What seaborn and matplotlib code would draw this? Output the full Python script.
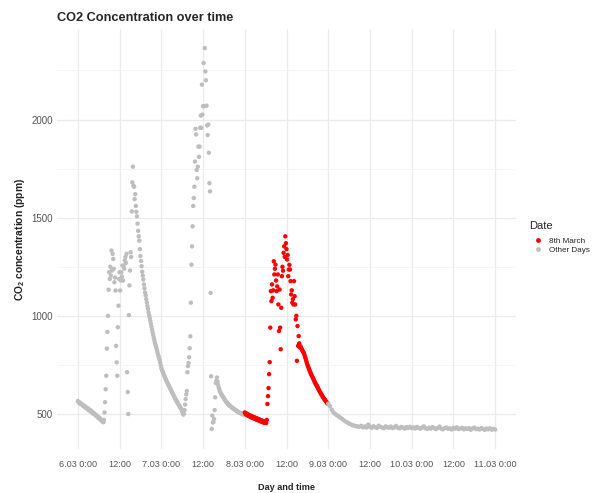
import pandas as pd
import seaborn as sns
import matplotlib.pyplot as plt
from matplotlib.ticker import MultipleLocator

# CO2 readings (ppm), 10-minute steps for 6-8 March, 30-minute steps for 9-10 March
co2_mar6 = [
    566, 561, 560, 555, 557, 551, 552, 547, 548, 541, 543, 538,
    540, 533, 535, 529, 530, 524, 527, 520, 522, 515, 518, 511,
    513, 507, 508, 501, 503, 497, 498, 492, 493, 487, 488, 481,
    483, 477, 478, 471, 472, 466, 466, 461, 458, 470, 508, 560,
    626, 695, 833, 918, 1000, 1133, 1222, 1188, 1250, 1205, 1333, 1231,
    1316, 1290, 1240, 1171, 1195, 1129, 847, 763, 695, 942, 1052, 1188,
    1222, 1129, 1180, 1222, 1200, 1256, 1180, 1256, 1240, 1282, 1300, 1270,
    1316, 713, 612, 500, 1004, 1155, 1231, 1324, 1300, 1532, 1680, 1760,
    1663, 1657, 1595, 1620, 1560, 1530, 1507, 1470, 1433, 1405, 1383, 1340,
    1305, 1280, 1253, 1225, 1205, 1185, 1160, 1140, 1119, 1104, 1085, 1068,
    1050, 1036, 1018, 1003, 990, 975, 960, 945, 930, 916, 902, 888,
    875, 862, 852, 842, 830, 818, 806, 795, 785, 775, 762, 748,
]
co2_mar7 = [
    735, 726, 718, 711, 703, 696, 689, 682, 675, 669, 662, 656,
    650, 644, 638, 632, 626, 620, 614, 608, 602, 596, 590, 584,
    578, 572, 567, 562, 557, 552, 547, 542, 537, 532, 527, 523,
    515, 505, 497, 502, 520, 548, 576, 600, 617, 713, 744, 760,
    789, 835, 896, 1067, 1261, 1354, 1456, 1560, 1600, 1658, 1786, 1953,
    1924, 1743, 1701, 1760, 1862, 1810, 1862, 1958, 2020, 1958, 2178, 2025,
    2068, 2288, 2068, 2364, 2245, 2200, 2071, 1970, 1921, 1975, 1831, 1676,
    1634, 1117, 692, 424, 492, 457, 459, 475, 520, 585, 658, 669,
    686, 665, 648, 635, 627, 615, 610, 604, 598, 593, 589, 585,
    580, 575, 571, 566, 562, 558, 555, 552, 548, 545, 542, 540,
    538, 535, 533, 530, 528, 526, 524, 522, 520, 518, 516, 514,
    512, 510, 508, 507, 505, 504, 503, 501, 500, 499, 498, 497,
]
co2_mar8 = [
    508, 501, 504, 496, 501, 492, 498, 490, 494, 486, 492, 483,
    489, 481, 486, 478, 484, 476, 481, 473, 479, 470, 476, 468,
    474, 466, 471, 463, 469, 461, 466, 459, 464, 456, 461, 455,
    458, 454, 470, 551, 591, 632, 703, 764, 940, 1126, 1075, 1160,
    1092, 1130, 1278, 1211, 1240, 1261, 1180, 1126, 1150, 1211, 1058, 923,
    1134, 940, 830, 1041, 1202, 1250, 1230, 1321, 1354, 1300, 1405, 1370,
    1340, 1287, 1310, 1202, 1236, 1260, 1236, 1177, 1109, 1130, 1067, 1085,
    1058, 1177, 1100, 1058, 982, 1000, 771, 948, 847, 897, 860, 839,
    845, 838, 832, 826, 820, 815, 810, 802, 792, 782, 772, 762,
    752, 744, 736, 728, 720, 713, 706, 699, 693, 687, 681, 675,
    668, 661, 655, 650, 645, 640, 634, 628, 622, 616, 611, 606,
    601, 596, 591, 586, 581, 577, 573, 569, 565, 561, 557, 553,
]
co2_mar9 = [
    553, 540, 522, 508, 500, 494, 488, 481, 475, 468, 462, 457,
    451, 447, 443, 441, 438, 436, 435, 440, 432, 437, 431, 446,
    434, 430, 438, 433, 429, 440, 435, 431, 428, 437, 433, 430,
    436, 428, 432, 439, 430, 427, 434, 431, 426, 433, 429, 435,
]
co2_mar10 = [
    428, 432, 426, 434, 429, 425, 431, 437, 427, 424, 430, 426,
    433, 428, 423, 429, 436, 425, 422, 428, 431, 424, 427, 421,
    429, 425, 432, 423, 426, 430, 422, 427, 424, 428, 420, 426,
    431, 423, 425, 421, 428, 424, 419, 426, 422, 427, 420, 424,
    421,
]
highlight_day = "2024-03-08"
tick_labels = ["6.03 0:00", "12:00", "7.03 0:00", "12:00", "8.03 0:00", "12:00",
               "9.03 0:00", "12:00", "10.03 0:00", "12:00", "11.03 0:00"]

dense = co2_mar6 + co2_mar7 + co2_mar8
sparse = co2_mar9 + co2_mar10
times = list(pd.date_range("2024-03-06 00:00", periods=len(dense), freq="10min")) + \
        list(pd.date_range("2024-03-09 00:00", periods=len(sparse), freq="30min"))
df = pd.DataFrame({"time": times, "co2": dense + sparse})
df["Date"] = ["8th March" if t.normalize() == pd.Timestamp(highlight_day) else "Other Days"
              for t in df["time"]]

sns.set_theme(style="white")
plt.rcParams["font.family"] = ["Liberation Sans", "DejaVu Sans"]
plt.rcParams["mathtext.fontset"] = "custom"
plt.rcParams["mathtext.rm"] = "Liberation Sans"
plt.rcParams["mathtext.bf"] = "Liberation Sans:bold"

fig = plt.figure(figsize=(5.93, 4.93), dpi=100)
ax = fig.add_axes([57 / 593, 1 - 449 / 493, (516 - 57) / 593, (449 - 29) / 493])

sns.scatterplot(data=df, x="time", y="co2", hue="Date",
                hue_order=["8th March", "Other Days"],
                palette={"8th March": "#FF0000", "Other Days": "#BEBEBE"},
                s=10, linewidth=0, ax=ax)

ax.set_xticks(list(pd.date_range("2024-03-06", "2024-03-11", freq="12h")))
ax.set_xticklabels(tick_labels)
ax.yaxis.set_major_locator(MultipleLocator(500))
ax.yaxis.set_minor_locator(MultipleLocator(250))
ax.grid(which="major", color="#EBEBEB", linewidth=0.9)
ax.grid(which="minor", axis="y", color="#F2F2F2", linewidth=0.5)
ax.set_axisbelow(True)
for sp in ax.spines.values():
    sp.set_visible(False)
ax.tick_params(axis="x", length=0, pad=8, labelsize=6.6, colors="#555555")
ax.tick_params(axis="y", which="both", length=0, pad=3, labelsize=7, colors="#555555")
ax.set_xlabel("")
ax.set_ylabel("")

fig.text(57 / 593, 1 - 18 / 493, "CO2 Concentration over time",
         fontsize=9.2, fontweight="bold", ha="left", va="center")
fig.text(286.5 / 593, 1 - 487 / 493, "Day and time",
         fontsize=6.6, fontweight="bold", ha="center", va="center")
fig.text(20 / 593, 1 - 239 / 493, r"CO$_\mathbf{2}$ concentration (ppm)",
         fontsize=7.4, fontweight="bold", rotation=90, ha="center", va="center",
         color="#222222")

# legend title drawn separately so the gap to the keys matches
fig.text(529 / 593, 1 - 226 / 493, "Date", fontsize=8, ha="left", va="center")
leg = ax.legend(loc="upper left", bbox_to_anchor=(527 / 593, 1 - 237 / 493),
                bbox_transform=fig.transFigure, frameon=False, fontsize=5.9,
                handlelength=2.6, handletextpad=0.1,
                labelspacing=0.15, borderpad=0, borderaxespad=0,
                markerscale=1.1)

fig.savefig("out.png", dpi=100)
